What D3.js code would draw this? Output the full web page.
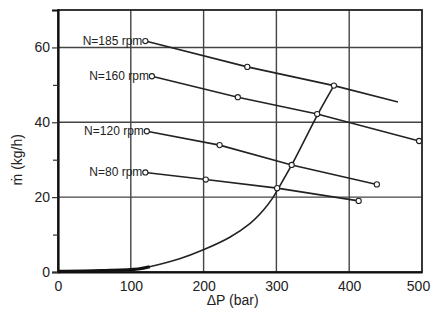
<!DOCTYPE html>
<html>
<head>
<meta charset="utf-8">
<script src="https://cdn.jsdelivr.net/npm/d3@7"></script>
<style>
  body { margin: 0; background: #fff; }
  text { font-family: "Liberation Sans", Arial, sans-serif; fill: #222; }
</style>
</head>
<body>
<div id="chart"></div>
<script>
// values
var xTicks = [0, 100, 200, 300, 400, 500];
var yTicks = [0, 20, 40, 60];
var yMinor = [10, 30, 50];
var gridX = [100, 200, 300, 400];
var gridY = [20, 40, 60];

var speeds = ["N=185 rpm", "N=160 rpm", "N=120 rpm", "N=80 rpm"];
var lineDP = [
    [120, 260, 379, 467],
    [129, 247, 356, 496],
    [122, 222, 321, 438],
    [120, 203, 301, 413]
];
var lineFlow = [
    [61.7, 54.8, 49.8, 45.4],
    [52.3, 46.7, 42.2, 35.0],
    [37.6, 33.9, 28.6, 23.4],
    [26.6, 24.7, 22.4, 19.0]
];
// which points carry an open circle
var hasMarker = [
    [true, true, true, false],
    [true, true, true, true],
    [true, true, true, true],
    [true, true, true, true]
];

// limit curve
var curveDP = [0, 60, 110, 126, 168, 198, 236, 264, 282, 295, 302, 321, 357, 379];
var curveFlow = [0.2, 0.4, 0.8, 1.4, 3.6, 5.8, 9.3, 13.0, 16.5, 19.8, 22.1, 28.6, 42.2, 49.8];
var boldUntil = 4; // first points drawn heavier

var margin = { top: 10, right: 9, bottom: 41, left: 58 },
    width = 431 - margin.left - margin.right,
    height = 313 - margin.top - margin.bottom;

var svg = d3.select("#chart")
    .append("svg")
    .attr("width", 431)
    .attr("height", 313);

var graph = svg.append("g")
    .attr("transform", "translate(" + margin.left + "," + margin.top + ")");

var x = d3.scaleLinear().domain([0, 500]).range([0, width]);
var y = d3.scaleLinear().domain([0, 70]).range([height, 0]);

// grid
graph.selectAll(".gx")
    .data(gridX)
    .enter()
    .append("line")
    .attr("x1", function (d) { return x(d); })
    .attr("x2", function (d) { return x(d); })
    .attr("y1", 0)
    .attr("y2", height)
    .attr("stroke", "#444")
    .attr("stroke-width", 1.4);

graph.selectAll(".gy")
    .data(gridY)
    .enter()
    .append("line")
    .attr("x1", 0)
    .attr("x2", width)
    .attr("y1", function (d) { return y(d); })
    .attr("y2", function (d) { return y(d); })
    .attr("stroke", "#444")
    .attr("stroke-width", 1.4);

// frame
graph.append("rect")
    .attr("width", width)
    .attr("height", height)
    .attr("fill", "none")
    .attr("stroke", "#222")
    .attr("stroke-width", 1.8);

// axes
var xAxis = graph.append("g")
    .attr("transform", "translate(0," + height + ")")
    .call(d3.axisBottom(x).tickValues(xTicks).tickSize(0).tickPadding(9));
xAxis.select(".domain").attr("stroke", "#111").attr("stroke-width", 2.2);
xAxis.selectAll("text").style("font-size", "14px").attr("fill", "#222")
    .attr("dx", function (d) { return d === 500 ? -4 : 0; });

var yAxis = graph.append("g")
    .call(d3.axisLeft(y).tickValues(yTicks).tickSize(6).tickPadding(2));
yAxis.select(".domain").attr("stroke", "#111").attr("stroke-width", 2.2);
yAxis.selectAll("line").attr("stroke", "#333").attr("stroke-width", 1.2);
yAxis.selectAll("text").style("font-size", "14px").attr("fill", "#222");

graph.append("g")
    .call(d3.axisLeft(y).tickValues(yMinor).tickSize(5).tickFormat(""))
    .call(function (g) { g.select(".domain").remove(); })
    .selectAll("line").attr("stroke", "#333").attr("stroke-width", 1.2);

// limit curve
var curvePts = curveDP.map(function (d, i) { return [d, curveFlow[i]]; });
var curveLine = d3.line()
    .x(function (d) { return x(d[0]); })
    .y(function (d) { return y(d[1]); })
    .curve(d3.curveCatmullRom.alpha(0.5));

graph.append("path")
    .attr("d", curveLine(curvePts))
    .attr("fill", "none")
    .attr("stroke", "#222")
    .attr("stroke-width", 1.6);

graph.append("path")
    .attr("d", curveLine(curvePts.slice(0, boldUntil)))
    .attr("fill", "none")
    .attr("stroke", "#111")
    .attr("stroke-width", 3);

// speed lines
var line = d3.line()
    .x(function (d) { return x(d[0]); })
    .y(function (d) { return y(d[1]); });

speeds.forEach(function (name, s) {
    var pts = lineDP[s].map(function (d, i) { return [d, lineFlow[s][i]]; });

    graph.append("path")
        .attr("d", line(pts))
        .attr("fill", "none")
        .attr("stroke", "#222")
        .attr("stroke-width", 1.6);

    graph.selectAll(".m" + s)
        .data(pts.filter(function (d, i) { return hasMarker[s][i]; }))
        .enter()
        .append("circle")
        .attr("cx", function (d) { return x(d[0]); })
        .attr("cy", function (d) { return y(d[1]); })
        .attr("r", 2.6)
        .attr("fill", "#fff")
        .attr("stroke", "#222")
        .attr("stroke-width", 1.1);

    graph.append("text")
        .attr("x", x(pts[0][0]) - 3)
        .attr("y", y(pts[0][1]) + 4)
        .attr("text-anchor", "end")
        .style("font-size", "12px")
        .text(name);
});

// axis titles
graph.append("text")
    .attr("x", x(240))
    .attr("y", height + 33)
    .attr("text-anchor", "middle")
    .style("font-size", "14px")
    .text("\u0394P (bar)");

graph.append("text")
    .attr("transform", "translate(-36," + (y(30)) + ")rotate(-90)")
    .attr("text-anchor", "middle")
    .style("font-size", "14px")
    .text("m\u0307  (kg/h)");
</script>
</body>
</html>
